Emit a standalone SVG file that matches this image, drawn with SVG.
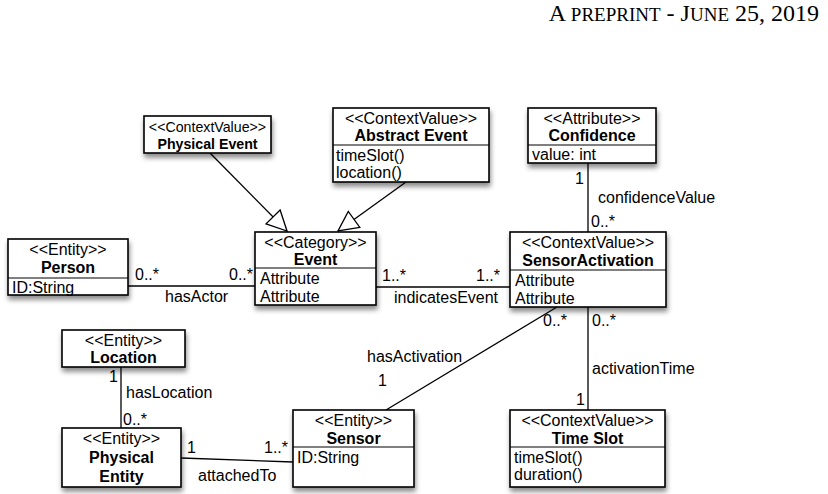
<svg xmlns="http://www.w3.org/2000/svg" width="828" height="494" viewBox="0 0 828 494">
<defs>
<filter id="sh" x="-10%" y="-10%" width="130%" height="140%">
<feDropShadow dx="1" dy="4" stdDeviation="2.5" flood-color="#000" flood-opacity="0.45"/>
</filter>
<marker id="tri" viewBox="0 0 20 20" refX="19" refY="10" markerWidth="22" markerHeight="22" markerUnits="userSpaceOnUse" orient="auto">
<path d="M1,1 L19,10 L1,19 Z" fill="#fff" stroke="#000" stroke-width="1.2"/>
</marker>
</defs>
<style>
.box{fill:#fff;stroke:#000;stroke-width:1.6}
.sep{stroke:#000;stroke-width:1.2}
text{font-family:"Liberation Sans",Arial,sans-serif;font-size:16px;fill:#000}
.c{text-anchor:middle}
.e{text-anchor:end}
.b{font-weight:bold}
.s{font-size:14.2px}
.ln{stroke:#000;stroke-width:1.3;fill:none}
.hd{font-family:"Liberation Serif","Times New Roman",serif;font-size:24px}
.sc{font-size:19px}
</style>
<text class="hd" x="819" y="21" text-anchor="end">A <tspan class="sc">PREPRINT</tspan> - J<tspan class="sc">UNE</tspan> 25, 2019</text>

<g id="connectors">
<line class="ln" x1="210" y1="153" x2="287" y2="231" marker-end="url(#tri)"/>
<line class="ln" x1="406" y1="182" x2="338" y2="231" marker-end="url(#tri)"/>
<line class="ln" x1="588" y1="163" x2="588" y2="232"/>
<line class="ln" x1="128" y1="286" x2="255" y2="286"/>
<line class="ln" x1="376" y1="287" x2="510" y2="287" stroke="#888"/>
<line class="ln" x1="557" y1="307" x2="386" y2="410"/>
<line class="ln" x1="588" y1="307" x2="588" y2="410"/>
<line class="ln" x1="121" y1="367" x2="121" y2="428"/>
<line class="ln" x1="181" y1="458" x2="293" y2="462"/>
<text x="575" y="184">1</text>
<text x="598" y="203">confidenceValue</text>
<text x="591" y="227">0..*</text>
<text x="135" y="280">0..*</text>
<text class="e" x="253" y="280">0..*</text>
<text x="165" y="302">hasActor</text>
<text x="382" y="281">1..*</text>
<text class="e" x="500" y="281">1..*</text>
<text x="394" y="303">indicatesEvent</text>
<text x="543" y="326">0..*</text>
<text x="592" y="326">0..*</text>
<text x="367" y="362">hasActivation</text>
<text x="378" y="386">1</text>
<text x="592" y="374">activationTime</text>
<text x="576" y="405">1</text>
<text x="109" y="382">1</text>
<text x="126" y="398">hasLocation</text>
<text x="123" y="425">0..*</text>
<text x="187" y="453">1</text>
<text class="e" x="288" y="453">1..*</text>
<text x="198" y="481">attachedTo</text>
</g>

<g id="physical-event">
<rect class="box" filter="url(#sh)" x="144" y="116" width="127" height="37"/>
<text class="c s" x="207.5" y="132">&lt;&lt;ContextValue&gt;&gt;</text>
<text class="c b s" x="207.5" y="149">Physical Event</text>
</g>

<g id="abstract-event">
<rect class="box" filter="url(#sh)" x="333" y="108" width="156" height="74"/>
<line class="sep" x1="333" y1="145" x2="489" y2="145"/>
<text class="c" x="411" y="124">&lt;&lt;ContextValue&gt;&gt;</text>
<text class="c b" x="411" y="141">Abstract Event</text>
<text x="336" y="161">timeSlot()</text>
<text x="336" y="178">location()</text>
</g>

<g id="confidence">
<rect class="box" filter="url(#sh)" x="528" y="108" width="128" height="55"/>
<line class="sep" x1="528" y1="145" x2="656" y2="145"/>
<text class="c" x="592" y="124">&lt;&lt;Attribute&gt;&gt;</text>
<text class="c b" x="592" y="141">Confidence</text>
<text x="532" y="160">value: int</text>
</g>

<g id="person">
<rect class="box" filter="url(#sh)" x="8" y="239" width="120" height="56"/>
<line class="sep" x1="8" y1="278" x2="128" y2="278"/>
<text class="c" x="68" y="255">&lt;&lt;Entity&gt;&gt;</text>
<text class="c b" x="68" y="273">Person</text>
<text x="12" y="293">ID:String</text>
</g>

<g id="event">
<rect class="box" filter="url(#sh)" x="255" y="232" width="121" height="73"/>
<line class="sep" x1="255" y1="268" x2="376" y2="268"/>
<text class="c" x="315.5" y="248">&lt;&lt;Category&gt;&gt;</text>
<text class="c b" x="315.5" y="265">Event</text>
<text x="260" y="284">Attribute</text>
<text x="260" y="302">Attribute</text>
</g>

<g id="sensor-activation">
<rect class="box" filter="url(#sh)" x="510" y="232" width="156" height="75"/>
<line class="sep" x1="510" y1="270" x2="666" y2="270"/>
<text class="c" x="588" y="248">&lt;&lt;ContextValue&gt;&gt;</text>
<text class="c b" x="588" y="266">SensorActivation</text>
<text x="515" y="286">Attribute</text>
<text x="515" y="304">Attribute</text>
</g>

<g id="location">
<rect class="box" filter="url(#sh)" x="62" y="330" width="123" height="37"/>
<text class="c" x="123.5" y="346">&lt;&lt;Entity&gt;&gt;</text>
<text class="c b" x="123.5" y="363">Location</text>
</g>

<g id="physical-entity">
<rect class="box" filter="url(#sh)" x="62" y="428" width="119" height="59"/>
<text class="c" x="121.5" y="444">&lt;&lt;Entity&gt;&gt;</text>
<text class="c b" x="121.5" y="463">Physical</text>
<text class="c b" x="121.5" y="482">Entity</text>
</g>

<g id="sensor">
<rect class="box" filter="url(#sh)" x="293" y="410" width="121" height="77"/>
<line class="sep" x1="293" y1="447" x2="414" y2="447"/>
<text class="c" x="353.5" y="426">&lt;&lt;Entity&gt;&gt;</text>
<text class="c b" x="353.5" y="444">Sensor</text>
<text x="297" y="463">ID:String</text>
</g>

<g id="time-slot">
<rect class="box" filter="url(#sh)" x="510" y="410" width="155" height="77"/>
<line class="sep" x1="510" y1="447" x2="665" y2="447"/>
<text class="c" x="587.5" y="426">&lt;&lt;ContextValue&gt;&gt;</text>
<text class="c b" x="587.5" y="444">Time Slot</text>
<text x="514" y="463">timeSlot()</text>
<text x="514" y="480">duration()</text>
</g>
</svg>
